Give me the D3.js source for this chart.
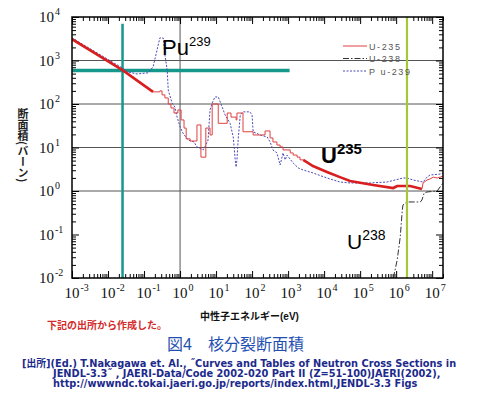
<!DOCTYPE html>
<html>
<head>
<meta charset="utf-8">
<script src="https://cdn.jsdelivr.net/npm/d3@7"></script>
<style>
html,body{margin:0;padding:0;background:#fff;}
svg{display:block;}
</style>
</head>
<body>
<div id="chart"></div>
<script>
// axis decades (exponents of ten)
var xExponents = [-3,-2,-1,0,1,2,3,4,5,6,7];
var yExponents = [-2,-1,0,1,2,3,4];
var gridYExponents = [0,1,2,3];
var gridXExponents = [0];

// cross sections, [energy (eV), sigma (barn)]
var u235Thermal = [[1e-3,3100],[0.0253,600],[0.178,190]];
var u235Resonance = [[0.178,190],[0.275,200],[0.316,162],[0.38,138],[0.47,100],[0.56,81],[0.68,62],[0.87,73],
    [1.07,43],[1.29,28],[1.48,15.8],[1.9,14.1],[2.95,33],[3.8,6.0],[5.2,28],[6.8,19.4],[7.8,100],[11.5,36],
    [20.4,62],[26,50],[36,43],[38,62],[56,23],[107,19.4],[229,24],[316,16.6],[380,13.4],[490,11.4],[600,10.3],
    [724,8.8],[1150,7.5],[1380,6.7],[1780,6.0],[2140,5.2],[2630,5.2]];
var u235Smooth = [[2630,5.2],[4900,3.75],[12000,2.74],[27500,2.08],[52500,1.7],[2.3e5,1.37],[8.3e5,1.17],
    [1.07e6,1.3],[2.45e6,1.3],[5.2e6,1.11]];
var u235Fast = [[5.2e6,1.11],[5.6e6,1.53],[7.2e6,1.79],[8.7e6,1.89],[1.07e7,2.08],[1.38e7,1.99],[1.66e7,2.08],[2.0e7,2.2]];
var u238 = [[8.3e5,0.01],[9.3e5,0.015],[1.07e6,0.026],[1.3e6,0.088],[1.48e6,0.36],[1.55e6,0.48],[2.0e6,0.56],
    [4.7e6,0.56],[5.2e6,0.62],[6.0e6,0.90],[7.2e6,0.95],[1.38e7,1.0],[1.66e7,1.24],[2.0e7,1.53]];
var pu239 = [[1e-3,3300],[0.0253,670],[0.034,550],[0.064,490],[0.13,520],[0.178,710],[0.23,1750],[0.275,3300],
    [0.34,3300],[0.38,1340],[0.44,600],[0.47,210],[0.60,105],[0.72,85],[0.83,50],[1.0,30],[1.2,21.5],[1.66,14.9],
    [2.45,13.4],[2.95,10.3],[4.4,8.8],[4.9,10.3],[6.0,14.9],[6.8,73],[7.8,105],[9.3,145],[11.5,145],[14.8,85],
    [17.8,56],[24.5,36],[30,17.4],[34,5.2],[36,3.55],[38,5.2],[41,14.9],[47,56],[56,66],[87,66],[100,56],[107,23],
    [166,19.4],[263,17.4],[316,13.4],[380,8.8],[490,7.5],[600,3.96],[724,7.5],[830,5.2],[930,6.7],[1380,4.4],
    [1900,3.4],[2630,3.04],[4900,2.6],[12000,1.99],[27500,1.61],[52500,1.53],[1.9e5,1.53],[5.6e5,1.61],
    [1.55e6,1.99],[2.0e6,1.99],[2.95e6,1.79],[5.6e6,1.61],[7.2e6,2.08],[8.7e6,2.33],[1.66e7,2.45],[2.0e7,2.6]];

// marker lines: thermal neutrons (0.0253 eV) and fission neutrons (~2 MeV)
var thermalVLine = [[0.0253,7000],[0.0253,0.01]];
var thermalHLine = [[1e-3,590],[1.1e3,590]];
var fastVLine = [[2e6,1e4],[2e6,0.01]];

var legendNames = ["U-235","U-238","P u-239"];
var sourceLines = [
    "[出所](Ed.) T.Nakagawa et. Al., \u02DDCurves and Tables of Neutron Cross Sections in",
    "JENDL-3.3\u02DD , JAERI-Data/Code 2002-020  Part II (Z=51-100)JAERI(2002),",
    "http://wwwndc.tokai.jaeri.go.jp/reports/index.html,JENDL-3.3 Figs"
];

var W = 480, H = 399;
var pLeft = 72, pRight = 443, pTop = 17, pBottom = 278;

var svg = d3.select("#chart").append("svg")
    .attr("width", W).attr("height", H);

var x = d3.scaleLog().domain([1e-3, 2e7]).range([pLeft, pRight]);
var y = d3.scaleLog().domain([1e-2, 1e4]).range([pBottom, pTop]);

svg.append("defs").append("clipPath").attr("id","plot-clip")
    .append("rect").attr("x",pLeft).attr("y",pTop).attr("width",pRight-pLeft).attr("height",pBottom-pTop);

// grid
var grid = svg.append("g").attr("class","grid");
grid.selectAll("line.gy").data(gridYExponents).enter().append("line")
    .attr("x1",pLeft).attr("x2",pRight)
    .attr("y1",function(e){return y(Math.pow(10,e));})
    .attr("y2",function(e){return y(Math.pow(10,e));})
    .attr("stroke","#555").attr("stroke-width",1);
grid.selectAll("line.gx").data(gridXExponents).enter().append("line")
    .attr("y1",pTop).attr("y2",pBottom)
    .attr("x1",function(e){return x(Math.pow(10,e));})
    .attr("x2",function(e){return x(Math.pow(10,e));})
    .attr("stroke","#555").attr("stroke-width",1);

// ticks
function minorValues(exps){
    var out = [];
    exps.forEach(function(e,i){
        if(i == exps.length-1) return;
        for(var k=2;k<10;k++) out.push(k*Math.pow(10,e));
    });
    return out;
}
function majorValues(exps){
    return exps.map(function(e){return Math.pow(10,e);});
}
var xMinor = minorValues(xExponents).concat([2e7]);
var yMinor = minorValues(yExponents);

function addAxis(axis, tr){
    svg.append("g").attr("transform",tr).call(axis)
        .call(function(g){
            g.select(".domain").remove();
            g.selectAll("line").attr("stroke","#000").attr("stroke-width",1);
        });
}
addAxis(d3.axisBottom(x).tickValues(xMinor).tickSize(-4).tickFormat(""), "translate(0,"+pBottom+")");
addAxis(d3.axisBottom(x).tickValues(majorValues(xExponents)).tickSize(-7).tickFormat(""), "translate(0,"+pBottom+")");
addAxis(d3.axisTop(x).tickValues(xMinor).tickSize(-4).tickFormat(""), "translate(0,"+pTop+")");
addAxis(d3.axisTop(x).tickValues(majorValues(xExponents)).tickSize(-7).tickFormat(""), "translate(0,"+pTop+")");
addAxis(d3.axisLeft(y).tickValues(yMinor).tickSize(-4).tickFormat(""), "translate("+pLeft+",0)");
addAxis(d3.axisLeft(y).tickValues(majorValues(yExponents)).tickSize(-7).tickFormat(""), "translate("+pLeft+",0)");
addAxis(d3.axisRight(y).tickValues(yMinor).tickSize(-4).tickFormat(""), "translate("+pRight+",0)");
addAxis(d3.axisRight(y).tickValues(majorValues(yExponents)).tickSize(-7).tickFormat(""), "translate("+pRight+",0)");

// tick labels 10^n
var labelFont = "'Liberation Serif', 'DejaVu Serif', serif";
var yl = svg.append("g").attr("font-family",labelFont).attr("fill","#111");
yExponents.forEach(function(e){
    var t = yl.append("text").attr("x",39).attr("y",y(Math.pow(10,e))+5).attr("font-size",15);
    t.append("tspan").text("10");
    t.append("tspan").attr("dy",-7).attr("font-size",10).attr("dx",1).text(e);
});
var xl = svg.append("g").attr("font-family",labelFont).attr("fill","#111");
xExponents.forEach(function(e){
    var t = xl.append("text").attr("x",x(Math.pow(10,e))-7.5).attr("y",298).attr("font-size",15);
    t.append("tspan").text("10");
    t.append("tspan").attr("dy",-7).attr("font-size",10).attr("dx",1).text(e);
});

var line = d3.line().x(function(d){return x(d[0]);}).y(function(d){return y(d[1]);});
var stepLine = d3.line().x(function(d){return x(d[0]);}).y(function(d){return y(d[1]);}).curve(d3.curveStepAfter);

var plot = svg.append("g").attr("clip-path","url(#plot-clip)");

// teal thermal markers
plot.append("path").attr("d",line(thermalVLine)).attr("stroke","#14988c").attr("stroke-width",2.5).attr("fill","none");
plot.append("path").attr("d",line(thermalHLine)).attr("stroke","#14988c").attr("stroke-width",3.5).attr("fill","none");

// curves
plot.append("path").attr("d",line(pu239)).attr("fill","none")
    .attr("stroke","#4a4ab8").attr("stroke-width",1).attr("stroke-dasharray","2,1.5");
plot.append("path").attr("d",line(u238)).attr("fill","none")
    .attr("stroke","#333").attr("stroke-width",1).attr("stroke-dasharray","6,2,1.5,2");
plot.append("path").attr("d",stepLine(u235Resonance)).attr("fill","none")
    .attr("stroke","#e04040").attr("stroke-width",1);
plot.append("path").attr("d",line(u235Fast)).attr("fill","none")
    .attr("stroke","#e04040").attr("stroke-width",1);
plot.append("path").attr("d",line(u235Thermal)).attr("fill","none")
    .attr("stroke","#d81e1e").attr("stroke-width",2.6);
plot.append("path").attr("d",line(u235Smooth)).attr("fill","none")
    .attr("stroke","#d81e1e").attr("stroke-width",2.6);

// fission spectrum marker
plot.append("path").attr("d",line(fastVLine)).attr("stroke","#a4c83a").attr("stroke-width",2.2).attr("fill","none");

// frame
svg.append("rect").attr("x",pLeft).attr("y",pTop).attr("width",pRight-pLeft).attr("height",pBottom-pTop)
    .attr("fill","none").attr("stroke","#000").attr("stroke-width",1.5);

// legend
var legStyles = [
    {stroke:"#e04040", dash:null},
    {stroke:"#333", dash:"6,2,1.5,2"},
    {stroke:"#4a4ab8", dash:"2,1.5"}
];
var leg = svg.append("g");
legendNames.forEach(function(name,i){
    var ly = 46 + i*12.5;
    leg.append("line").attr("x1",343).attr("x2",367).attr("y1",ly).attr("y2",ly)
        .attr("stroke",legStyles[i].stroke).attr("stroke-width",1)
        .attr("stroke-dasharray",legStyles[i].dash);
    leg.append("text").attr("x",369).attr("y",ly+3.5).attr("font-size",9)
        .attr("font-family","'Liberation Sans', Arial, sans-serif").attr("fill","#555")
        .attr("letter-spacing",1.6).text(name);
});

// isotope annotations
var sans = "'Liberation Sans', Arial, sans-serif";
function isotope(px, py, sym, mass, size, supSize, weight){
    var t = svg.append("text").attr("x",px).attr("y",py).attr("font-family",sans)
        .attr("font-size",size).attr("font-weight",weight).attr("fill","#000");
    t.append("tspan").text(sym);
    t.append("tspan").attr("dy",-size*0.42).attr("font-size",supSize).text(mass);
}
isotope(162, 55, "Pu", "239", 22, 13, "normal");
isotope(321, 163, "U", "235", 22, 15, "bold");
isotope(347, 249, "U", "238", 21, 14, "normal");

// y axis title (vertical Japanese)
svg.append("text").attr("x",23).attr("y",108)
    .style("writing-mode","vertical-rl")
    .attr("font-family","'Noto Sans CJK JP', sans-serif").attr("font-size",11).attr("font-weight","bold")
    .attr("fill","#222").text("断面積(バーン)");

// x axis title and notes
var cjk = "'Liberation Sans', 'Noto Sans CJK JP', sans-serif";
svg.append("text").attr("x",200).attr("y",320).attr("font-family",cjk).attr("font-size",10)
    .attr("font-weight","bold").attr("fill","#111").text("中性子エネルギー(eV)");
svg.append("text").attr("x",47).attr("y",329).attr("font-family",cjk).attr("font-size",10)
    .attr("font-weight","bold").attr("fill","#d42a2a").text("下記の出所から作成した。");
svg.append("text").attr("x",167).attr("y",350).attr("font-family",cjk).attr("font-size",16)
    .attr("fill","#1f4fb0").text("図4\u3000核分裂断面積");
var srcFont = "'DejaVu Sans', 'Noto Sans CJK JP', sans-serif";
sourceLines.forEach(function(s,i){
    svg.append("text").attr("x",i==0?22:53).attr("y",367+i*10).attr("font-family",srcFont)
        .attr("font-size",9.8).attr("font-weight","bold").attr("fill","#1c2a8c").text(s);
});
</script>
</body>
</html>
